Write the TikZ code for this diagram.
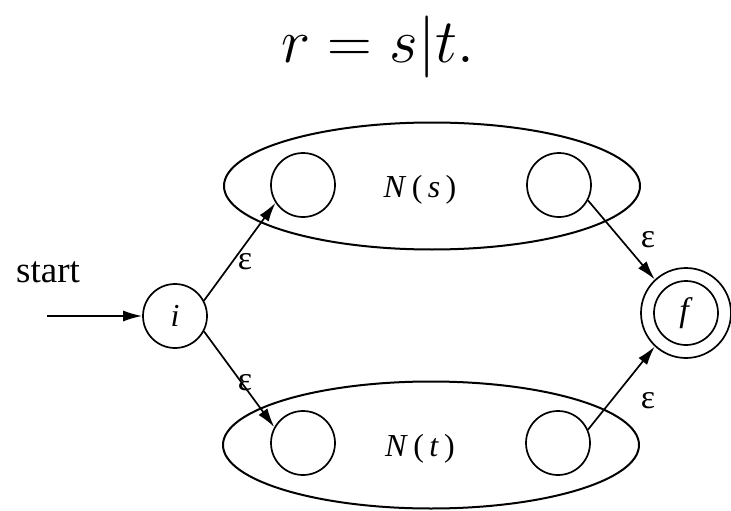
\documentclass[tikz,border=0pt]{standalone}
\usepackage{fix-cm}
\usepackage{fontspec}
\setmainfont{Liberation Serif}
\usetikzlibrary{shapes.geometric,arrows.meta}
\begin{document}
\begin{tikzpicture}[x=1pt,y=-1pt,
  st/.style={circle,draw,line width=1.7pt,minimum size=64pt,inner sep=0pt},
  grp/.style={ellipse,draw,line width=2pt,minimum width=416pt,minimum height=127pt,inner sep=0pt},
  tr/.style={line width=1.7pt,-{Latex[length=19pt,width=11pt]}},
  lab/.style={font=\fontsize{34}{36}\selectfont},
  nm/.style={font=\fontsize{32}{34}\selectfont}]
\useasboundingbox (0,0) rectangle (731,511);
\node[anchor=base,inner sep=0pt,font=\fontsize{62}{66}\selectfont] (title) at (378,63) {$r = s|t.$};
\node[grp] (Ns) at (432,186) {};
\node[grp] (Nt) at (431,445) {};
\node[nm] (ls) at (420,190) {\textit{N}\,(\,\textit{s}\,)};
\node[nm] (lt) at (420,449) {\textit{N}\,(\,\textit{t}\,)};
\node[st] (s1) at (303,185) {};
\node[st] (s2) at (559,185) {};
\node[st] (t1) at (303,443) {};
\node[st] (t2) at (558,443) {};
\node[st,font=\fontsize{32}{34}\selectfont] (i) at (175,316) {\textit{i}};
\node[circle,draw,line width=1.7pt,minimum size=90pt,inner sep=0pt] (fo) at (686,313) {};
\node[st,font=\fontsize{34}{36}\selectfont] (f) at (686,313) {\textit{f}};
\node[font=\fontsize{37}{39}\selectfont] (start) at (48,272) {start};
\coordinate (s0) at (47,316);
\draw[tr] (s0) -- (i.west);
\draw[tr] (i.28) -- (s1.213);
\draw[tr] (i.-28) -- (t1.151);
\draw[tr] (s2.-28) -- (fo.133);
\draw[tr] (t2.24) -- (fo.227);
\node[lab] (e1) at (245,262) {ε};
\node[lab] (e2) at (245,383) {ε};
\node[lab] (e3) at (648,240) {ε};
\node[lab] (e4) at (648,401) {ε};
\end{tikzpicture}
\end{document}
